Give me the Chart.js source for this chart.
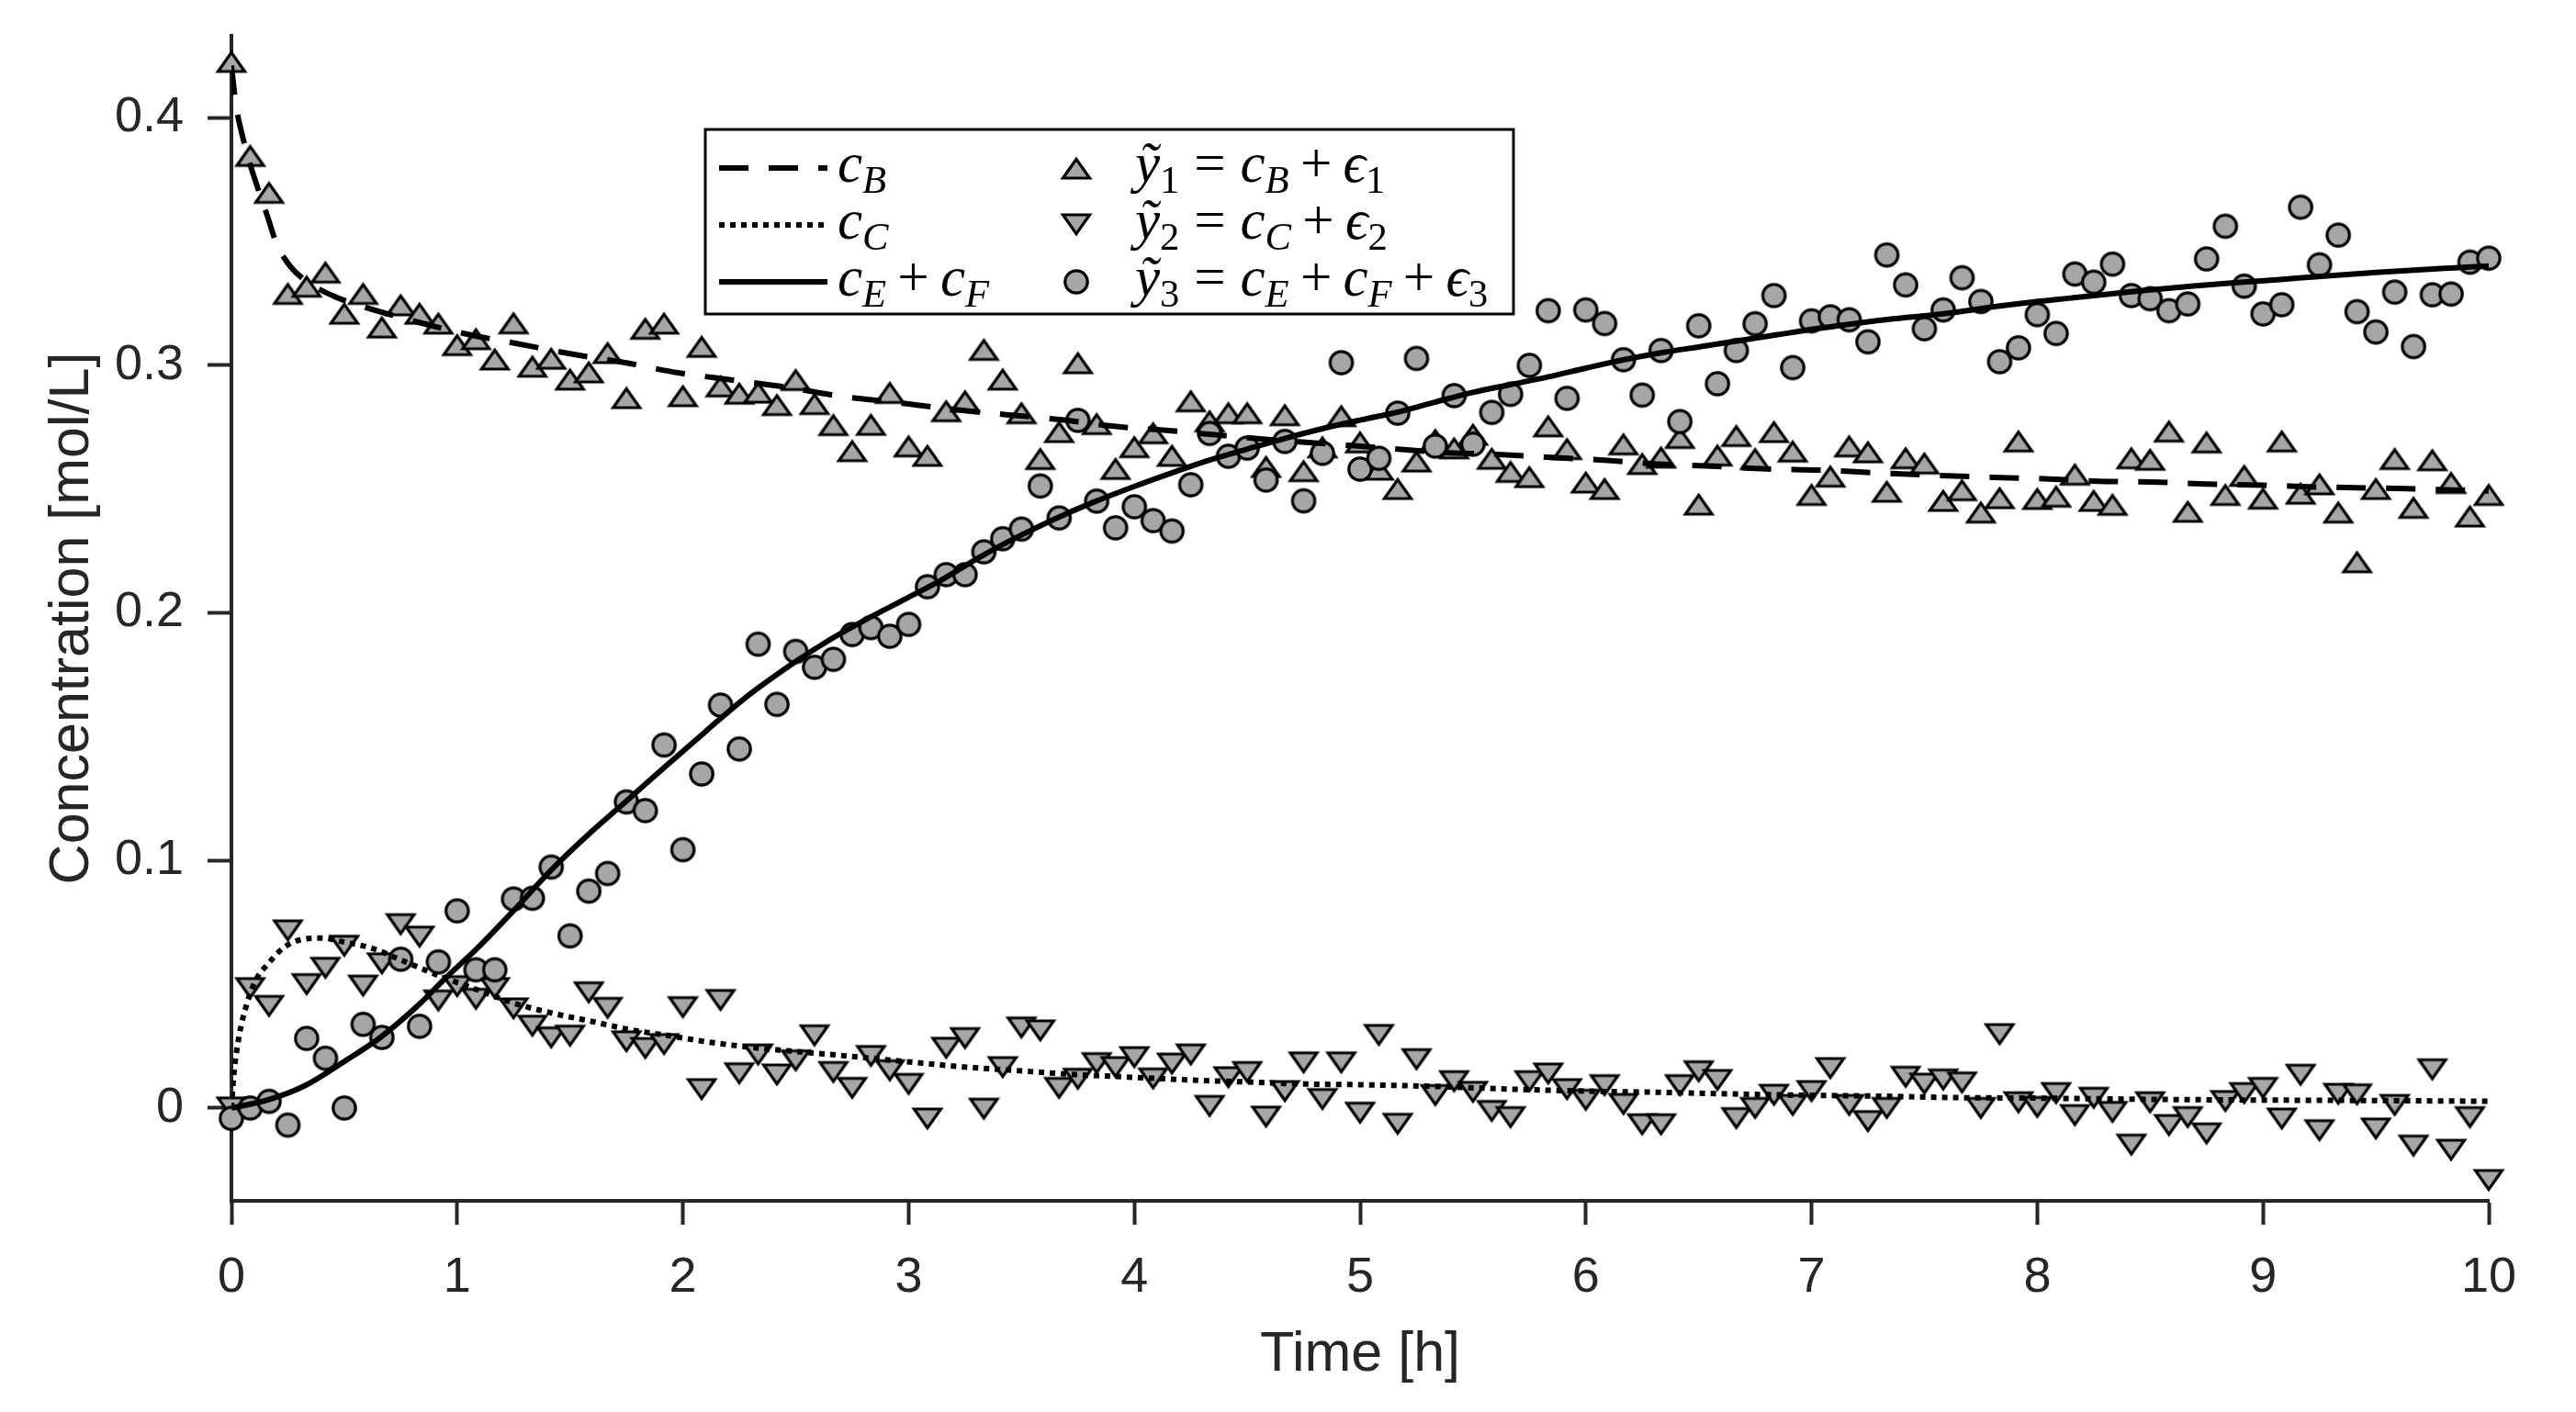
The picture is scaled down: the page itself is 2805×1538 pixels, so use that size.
<!DOCTYPE html>
<html>
<head>
<meta charset="utf-8">
<title>Concentration vs time</title>
<script src="https://cdn.jsdelivr.net/npm/chart.js@4.4.1/dist/chart.umd.min.js"></script>
<style>
  html, body { margin: 0; padding: 0; background: #fff; }
  canvas { display: block; }
</style>
</head>
<body>
<canvas id="chart" width="2805" height="1538"></canvas>
<script>
// measurements are taken every 5 minutes from 0 to 10 h
const SAMPLE_STEP = 1 / 12;
const SAMPLE_COUNT = 121;

// y1 = cB + e1 (up triangles)
const y1Measured = [
  0.4227, 0.3847, 0.3698, 0.3290, 0.3319, 0.3376, 0.3210, 0.3290, 0.3154, 0.3244,
  0.3210, 0.3170, 0.3083, 0.3107, 0.3025, 0.3171, 0.2996, 0.3028, 0.2944, 0.2973,
  0.3051, 0.2869, 0.3149, 0.3170, 0.2877, 0.3076, 0.2916, 0.2887, 0.2891, 0.2841,
  0.2942, 0.2845, 0.2760, 0.2655, 0.2761, 0.2890, 0.2674, 0.2636, 0.2816, 0.2856,
  0.3064, 0.2944, 0.2808, 0.2623, 0.2732, 0.3010, 0.2764, 0.2583, 0.2671, 0.2727,
  0.2636, 0.2856, 0.2775, 0.2808, 0.2808, 0.2591, 0.2800, 0.2574, 0.2670, 0.2796,
  0.2690, 0.2580, 0.2502, 0.2613, 0.2700, 0.2666, 0.2721, 0.2624, 0.2571, 0.2550,
  0.2755, 0.2663, 0.2528, 0.2502, 0.2682, 0.2603, 0.2629, 0.2708, 0.2439, 0.2637,
  0.2716, 0.2623, 0.2732, 0.2653, 0.2478, 0.2552, 0.2674, 0.2650, 0.2491, 0.2626,
  0.2605, 0.2454, 0.2497, 0.2407, 0.2465, 0.2694, 0.2462, 0.2471, 0.2560, 0.2454,
  0.2438, 0.2626, 0.2620, 0.2734, 0.2410, 0.2690, 0.2478, 0.2555, 0.2463, 0.2694,
  0.2483, 0.2521, 0.2407, 0.2206, 0.2502, 0.2623, 0.2426, 0.2618, 0.2526, 0.2391,
  0.2478
];

// y2 = cC + e2 (down triangles)
const y2Measured = [
  0.0000, 0.0482, 0.0410, 0.0715, 0.0498, 0.0564, 0.0653, 0.0492, 0.0582, 0.0740,
  0.0690, 0.0432, 0.0490, 0.0439, 0.0482, 0.0400, 0.0330, 0.0283, 0.0290, 0.0465,
  0.0402, 0.0267, 0.0240, 0.0256, 0.0405, 0.0074, 0.0434, 0.0138, 0.0214, 0.0133,
  0.0190, 0.0291, 0.0143, 0.0079, 0.0208, 0.0150, 0.0095, -0.0045, 0.0241, 0.0280,
  -0.0005, 0.0163, 0.0323, 0.0311, 0.0079, 0.0116, 0.0179, 0.0163, 0.0203, 0.0117,
  0.0177, 0.0214, 0.0006, 0.0122, 0.0143, -0.0037, 0.0066, 0.0182, 0.0034, 0.0182,
  -0.0021, 0.0293, -0.0066, 0.0195, 0.0050, 0.0106, 0.0063, -0.0014, -0.0039, 0.0106,
  0.0137, 0.0074, 0.0031, 0.0090, 0.0014, -0.0068, -0.0068, 0.0090, 0.0146, 0.0111,
  -0.0043, -0.0002, 0.0051, 0.0010, 0.0066, 0.0159, 0.0010, -0.0055, -0.0002, 0.0124,
  0.0096, 0.0113, 0.0101, -0.0002, 0.0296, 0.0021, 0.0002, 0.0058, -0.0031, 0.0039,
  -0.0018, -0.0150, 0.0021, -0.0071, -0.0039, -0.0105, 0.0026, 0.0058, 0.0079, -0.0045,
  0.0132, -0.0092, 0.0055, 0.0053, -0.0085, 0.0010, -0.0154, 0.0154, -0.0171, -0.0039,
  -0.0293
];

// y3 = cE + cF + e3 (circles)
const y3Measured = [
  -0.0042, 0.0000, 0.0027, -0.0069, 0.0281, 0.0201, 0.0000, 0.0338, 0.0285, 0.0601,
  0.0330, 0.0590, 0.0796, 0.0558, 0.0558, 0.0844, 0.0847, 0.0973, 0.0695, 0.0876,
  0.0947, 0.1236, 0.1201, 0.1466, 0.1043, 0.1349, 0.1627, 0.1450, 0.1873, 0.1630,
  0.1844, 0.1780, 0.1812, 0.1912, 0.1940, 0.1905, 0.1953, 0.2105, 0.2154, 0.2154,
  0.2246, 0.2299, 0.2338, 0.2512, 0.2383, 0.2777, 0.2451, 0.2343, 0.2428, 0.2372,
  0.2330, 0.2517, 0.2724, 0.2632, 0.2665, 0.2536, 0.2692, 0.2452, 0.2644, 0.3010,
  0.2580, 0.2624, 0.2806, 0.3027, 0.2673, 0.2877, 0.2681, 0.2809, 0.2882, 0.2999,
  0.3220, 0.2866, 0.3223, 0.3168, 0.3022, 0.2879, 0.3059, 0.2772, 0.3159, 0.2925,
  0.3059, 0.3167, 0.3281, 0.2990, 0.3179, 0.3195, 0.3183, 0.3094, 0.3445, 0.3324,
  0.3147, 0.3223, 0.3353, 0.3257, 0.3014, 0.3070, 0.3204, 0.3128, 0.3368, 0.3335,
  0.3408, 0.3281, 0.3268, 0.3220, 0.3247, 0.3429, 0.3561, 0.3319, 0.3207, 0.3244,
  0.3638, 0.3405, 0.3525, 0.3216, 0.3134, 0.3295, 0.3075, 0.3284, 0.3287, 0.3416,
  0.3432
];

// model curves
const cBTimes  = [0, 0.02, 0.045, 0.08, 0.115, 0.16, 0.2, 0.26, 0.33, 0.45, 0.57, 0.82, 1.04, 1.27, 1.5, 1.75, 1.98, 2.22, 2.47, 2.7, 2.94, 3.19, 3.42, 3.67, 3.91, 4.14, 4.39, 4.63, 4.87, 5.1, 5.35, 5.59, 5.83, 6.08, 6.32, 6.56, 6.8, 7.05, 7.29, 7.55, 7.8, 8.03, 8.27, 8.5, 8.75, 9.0, 9.24, 9.48, 9.72, 10];
const cBValues = [0.421, 0.405, 0.394, 0.382, 0.372, 0.360, 0.349, 0.340, 0.334, 0.328, 0.324, 0.3175, 0.3126, 0.3086, 0.3046, 0.3009, 0.2969, 0.2940, 0.2909, 0.2874, 0.2850, 0.2822, 0.2801, 0.2780, 0.2753, 0.2737, 0.2716, 0.2697, 0.2681, 0.2666, 0.2648, 0.2640, 0.2628, 0.2616, 0.2600, 0.2592, 0.2581, 0.2576, 0.2565, 0.2555, 0.2547, 0.2541, 0.2531, 0.2528, 0.2520, 0.2515, 0.2508, 0.2504, 0.2499, 0.2492];

const cCTimes  = [0, 0.01, 0.034, 0.068, 0.11, 0.16, 0.23, 0.3, 0.4, 0.5, 0.62, 0.75, 0.92, 1.09, 1.26, 1.43, 1.6, 1.76, 1.93, 2.1, 2.27, 2.5, 2.74, 2.98, 3.23, 3.48, 3.74, 3.99, 4.24, 4.5, 4.75, 5.0, 5.33, 5.67, 6.0, 6.34, 6.68, 7.02, 7.36, 7.63, 7.98, 8.49, 8.99, 9.5, 10];
const cCValues = [0, 0.013, 0.029, 0.042, 0.052, 0.058, 0.0646, 0.0678, 0.0686, 0.0670, 0.0646, 0.0598, 0.0534, 0.0477, 0.0421, 0.0381, 0.0349, 0.0317, 0.0293, 0.0268, 0.0248, 0.0228, 0.0209, 0.0188, 0.0167, 0.0151, 0.0135, 0.0124, 0.0113, 0.0105, 0.0097, 0.0094, 0.0087, 0.0076, 0.0068, 0.0063, 0.0056, 0.0051, 0.0047, 0.0042, 0.0040, 0.0035, 0.0032, 0.0030, 0.0027];

const cEFTimes  = [0, 0.16, 0.33, 0.5, 0.66, 0.835, 0.95, 1.09, 1.26, 1.41, 1.6, 1.75, 1.93, 2.1, 2.27, 2.5, 2.64, 2.81, 2.98, 3.15, 3.31, 3.48, 3.65, 3.82, 3.99, 4.16, 4.33, 4.5, 4.67, 4.84, 5.0, 5.16, 5.33, 5.5, 5.67, 5.84, 6.0, 6.17, 6.34, 6.51, 6.68, 6.85, 7.02, 7.19, 7.36, 7.53, 7.64, 7.81, 7.98, 8.15, 8.32, 8.49, 8.65, 8.82, 8.99, 9.16, 9.33, 9.5, 9.67, 9.83, 10];
const cEFValues = [0, 0.0032, 0.0092, 0.0188, 0.0285, 0.0421, 0.0526, 0.0646, 0.0807, 0.0955, 0.1120, 0.1240, 0.1385, 0.1520, 0.1652, 0.1803, 0.1885, 0.1972, 0.2053, 0.2135, 0.2222, 0.2305, 0.2380, 0.2447, 0.2507, 0.2563, 0.2616, 0.2661, 0.2705, 0.2745, 0.2778, 0.2809, 0.2850, 0.2890, 0.2922, 0.2954, 0.2988, 0.3022, 0.3051, 0.3075, 0.3099, 0.3123, 0.3147, 0.3168, 0.3187, 0.3202, 0.3214, 0.3236, 0.3255, 0.3271, 0.3287, 0.3303, 0.3316, 0.3329, 0.3340, 0.3352, 0.3363, 0.3374, 0.3384, 0.3392, 0.3400];

const xTicks = [0, 1, 2, 3, 4, 5, 6, 7, 8, 9, 10];
const yTicks = [0, 0.1, 0.2, 0.3, 0.4];

const AXIS = '#262626';
const MARKER_FILL = '#a6a6a6';
const MARKER_EDGE = '#000';
const LINE_W = 6;
const DASH = [32, 22];
const DOT = [6, 6];
const FONT = '"Liberation Sans", Arial, sans-serif';

const sampleTimes = Array.from({ length: SAMPLE_COUNT }, (_, i) => i * SAMPLE_STEP);
const toPoints = (xs, ys) => ys.map((v, i) => ({ x: xs[i], y: v }));

// marker images, drawn so the bounding box is centred on the data point
function makeMarker(shape) {
  const c = document.createElement('canvas');
  c.width = 40; c.height = 40;
  const g = c.getContext('2d');
  g.fillStyle = MARKER_FILL;
  g.strokeStyle = MARKER_EDGE;
  g.lineWidth = 3.2;
  g.beginPath();
  if (shape === 'up') {
    g.moveTo(20, 10.3); g.lineTo(34.5, 31); g.lineTo(5.5, 31); g.closePath();
  } else if (shape === 'down') {
    g.moveTo(20, 29.7); g.lineTo(34.5, 9); g.lineTo(5.5, 9); g.closePath();
  } else {
    g.arc(20, 20, 12.2, 0, Math.PI * 2);
  }
  g.fill();
  g.stroke();
  return c;
}
const upMarker = makeMarker('up');
const downMarker = makeMarker('down');
const circleMarker = makeMarker('circle');

// legend text pieces
const it = t => ({ t, it: true });
const sub = (t, italic) => ({ t, sub: true, it: !!italic });
const op = (t, gap) => [{ gap }, { t }, { gap }];

function drawMath(ctx, x, y, runs, size) {
  for (const r of runs) {
    if (r.gap !== undefined) { x += r.gap * size; continue; }
    const s = r.sub ? size * 0.7 : size;
    ctx.font = (r.it ? 'italic ' : '') + s + 'px "Liberation Serif", "DejaVu Serif", serif';
    ctx.fillText(r.t, x, y + (r.sub ? size * 0.2 : 0));
    x += ctx.measureText(r.t).width;
  }
}

const legendLines = [
  { dash: DASH, runs: [it('c'), sub('B', true)] },
  { dash: DOT, runs: [it('c'), sub('C', true)] },
  { dash: [], runs: [it('c'), sub('E', true), ...op('+', 0.2), it('c'), sub('F', true)] }
];
const legendMarkers = [
  { img: upMarker, runs: [it('ỹ'), sub('1'), ...op('=', 0.26), it('c'), sub('B', true), ...op('+', 0.2), it('ϵ'), sub('1')] },
  { img: downMarker, runs: [it('ỹ'), sub('2'), ...op('=', 0.26), it('c'), sub('C', true), ...op('+', 0.2), it('ϵ'), sub('2')] },
  { img: circleMarker, runs: [it('ỹ'), sub('3'), ...op('=', 0.26), it('c'), sub('E', true), ...op('+', 0.2), it('c'), sub('F', true), ...op('+', 0.2), it('ϵ'), sub('3')] }
];

const mathLegend = {
  id: 'mathLegend',
  afterDraw(chart) {
    const ctx = chart.ctx;
    const box = { x: 768, y: 141, w: 880, h: 201 };
    const rows = [183, 245, 307];
    const size = 61;
    ctx.save();
    ctx.fillStyle = '#fff';
    ctx.fillRect(box.x, box.y, box.w, box.h);
    ctx.strokeStyle = '#000';
    ctx.lineWidth = 3;
    ctx.strokeRect(box.x, box.y, box.w, box.h);
    ctx.fillStyle = '#000';
    ctx.textBaseline = 'alphabetic';
    legendLines.forEach((e, i) => {
      ctx.beginPath();
      ctx.setLineDash(e.dash);
      ctx.lineWidth = LINE_W;
      ctx.strokeStyle = '#000';
      ctx.moveTo(783, rows[i]);
      ctx.lineTo(901, rows[i]);
      ctx.stroke();
      ctx.setLineDash([]);
      drawMath(ctx, 912, rows[i] + 15, e.runs, size);
    });
    legendMarkers.forEach((e, i) => {
      ctx.drawImage(e.img, 1172 - 20, rows[i] - 20);
      drawMath(ctx, 1236, rows[i] + 15, e.runs, size);
    });
    ctx.restore();
  }
};

const lineSet = (label, xs, ys, dash, order) => ({
  label, data: toPoints(xs, ys), showLine: true, borderColor: '#000', borderWidth: LINE_W,
  borderDash: dash, borderCapStyle: 'butt', pointRadius: 0, cubicInterpolationMode: 'monotone', order
});
const markerSet = (label, ys, img, order) => ({
  label, data: toPoints(sampleTimes, ys), showLine: false, pointStyle: img,
  pointRadius: 14, clip: false, order
});

new Chart(document.getElementById('chart'), {
  type: 'scatter',
  data: {
    datasets: [
      markerSet('y1', y1Measured, upMarker, 5),
      markerSet('y2', y2Measured, downMarker, 4),
      markerSet('y3', y3Measured, circleMarker, 3),
      lineSet('cB', cBTimes, cBValues, DASH, 2),
      lineSet('cC', cCTimes, cCValues, DOT, 1),
      lineSet('cE+cF', cEFTimes, cEFValues, [], 0)
    ]
  },
  options: {
    responsive: false,
    animation: false,
    devicePixelRatio: 1,
    layout: { padding: { top: 39, right: 95, left: 0, bottom: 0 } },
    plugins: { legend: { display: false }, tooltip: { enabled: false } },
    scales: {
      x: {
        type: 'linear', min: 0, max: 10,
        afterBuildTicks: s => { s.ticks = xTicks.map(v => ({ value: v })); },
        afterFit: s => { s.height = 230; s.paddingLeft = 0; s.paddingRight = 0; },
        grid: { drawOnChartArea: false, drawTicks: true, tickLength: 26, tickWidth: 4, color: AXIS },
        border: { display: true, color: AXIS, width: 4 },
        ticks: { color: AXIS, padding: 26, font: { family: FONT, size: 54 } },
        title: { display: true, text: 'Time [h]', color: AXIS, padding: { top: 0, bottom: 25 },
                 font: { family: FONT, size: 61 } }
      },
      y: {
        type: 'linear', min: -0.0375, max: 0.433,
        afterBuildTicks: s => { s.ticks = yTicks.map(v => ({ value: v })); },
        afterFit: s => { s.width = 252; s.paddingTop = 0; s.paddingBottom = 0; },
        grid: { drawOnChartArea: false, drawTicks: true, tickLength: 26, tickWidth: 4, color: AXIS },
        border: { display: true, color: AXIS, width: 4 },
        ticks: { color: AXIS, padding: 26, callback: v => String(v), font: { family: FONT, size: 54 } },
        title: { display: true, text: 'Concentration [mol/L]', color: AXIS, padding: { top: 43, bottom: 0 },
                 font: { family: FONT, size: 61 } }
      }
    }
  },
  plugins: [mathLegend]
});
</script>
</body>
</html>
